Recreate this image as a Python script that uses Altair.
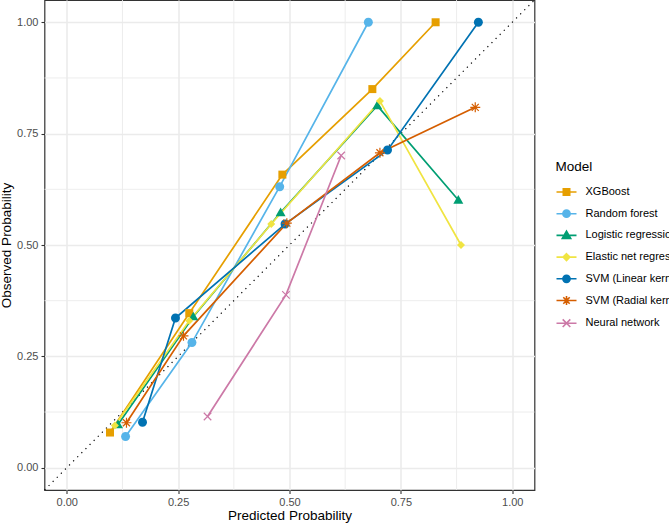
import altair as alt
import pandas as pd

models = ["XGBoost", "Random forest", "Logistic regression", "Elastic net regression",
          "SVM (Linear kernel)", "SVM (Radial kernel)", "Neural network"]
colors = ["#E69F00", "#56B4E9", "#009E73", "#F0E442", "#0072B2", "#D55E00", "#CC79A7"]

xgb_pred = [0.097, 0.275, 0.484, 0.686, 0.828]
xgb_obs = [0.079, 0.347, 0.658, 0.850, 1.000]
rf_pred = [0.132, 0.281, 0.478, 0.677]
rf_obs = [0.070, 0.281, 0.631, 1.000]
lr_pred = [0.115, 0.284, 0.480, 0.697, 0.879]
lr_obs = [0.097, 0.339, 0.573, 0.813, 0.601]
en_pred = [0.108, 0.275, 0.459, 0.703, 0.885]
en_obs = [0.095, 0.330, 0.547, 0.823, 0.500]
svml_pred = [0.170, 0.244, 0.490, 0.720, 0.924]
svml_obs = [0.102, 0.336, 0.547, 0.713, 1.000]
svmr_pred = [0.134, 0.262, 0.494, 0.703, 0.917]
svmr_obs = [0.101, 0.296, 0.549, 0.707, 0.809]
nn_pred = [0.316, 0.492, 0.616]
nn_obs = [0.115, 0.388, 0.701]

tick_values = [0.0, 0.25, 0.5, 0.75, 1.0]
minor_values = [0.125, 0.375, 0.625, 0.875]
diag_values = [-0.05, 1.05]

series = [
    (models[0], xgb_pred, xgb_obs),
    (models[1], rf_pred, rf_obs),
    (models[2], lr_pred, lr_obs),
    (models[3], en_pred, en_obs),
    (models[4], svml_pred, svml_obs),
    (models[5], svmr_pred, svmr_obs),
    (models[6], nn_pred, nn_obs),
]
rows = []
for name, px, py in series:
    for a, b in zip(px, py):
        rows.append({"Model": name, "pred": a, "obs": b})
df = pd.DataFrame(rows)

# point shapes (unit box -1..1)
circle = "M-0.9,0A0.9,0.9,0,1,1,0.9,0A0.9,0.9,0,1,1,-0.9,0Z"
point_shapes = [
    "M-0.8,-0.8L0.8,-0.8L0.8,0.8L-0.8,0.8Z",
    circle,
    "M0,-1L1,0.73L-1,0.73Z",
    "M0,-0.8L0.8,0L0,0.8L-0.8,0Z",
    circle,
    "M-1,0L1,0M0,-1L0,1M-0.7,-0.7L0.7,0.7M-0.7,0.7L0.7,-0.7",
    "M-0.75,-0.75L0.75,0.75M-0.75,0.75L0.75,-0.75",
]
lcircle = "M-1,0L1,0M-0.36,0A0.36,0.36,0,1,1,0.36,0A0.36,0.36,0,1,1,-0.36,0Z"
legend_shapes = [
    "M-1,0L1,0M-0.32,-0.32L0.32,-0.32L0.32,0.32L-0.32,0.32Z",
    lcircle,
    "M-1,0L1,0M0,-0.42L0.42,0.3L-0.42,0.3Z",
    "M-1,0L1,0M0,-0.34L0.34,0L0,0.34L-0.34,0Z",
    lcircle,
    "M-1,0L1,0M0,-0.45L0,0.45M-0.32,-0.32L0.32,0.32M-0.32,0.32L0.32,-0.32",
    "M-1,0L1,0M-0.38,-0.38L0.38,0.38M-0.38,0.38L0.38,-0.38",
]
legend_fills = colors[:5] + ["transparent", "transparent"]

domain = [-0.05, 1.05]
xenc = alt.X("pred:Q", scale=alt.Scale(domain=domain, nice=False, zero=False),
             axis=alt.Axis(values=tick_values, format=".2f", title="Predicted Probability"))
yenc = alt.Y("obs:Q", scale=alt.Scale(domain=domain, nice=False, zero=False),
             axis=alt.Axis(values=tick_values, format=".2f", title="Observed Probability"))

minor_x = alt.Chart(pd.DataFrame({"v": minor_values})).mark_rule(
    color="#EBEBEB", strokeWidth=0.9).encode(x=alt.X("v:Q", scale=alt.Scale(domain=domain, nice=False, zero=False)))
minor_y = alt.Chart(pd.DataFrame({"v": minor_values})).mark_rule(
    color="#EBEBEB", strokeWidth=0.9).encode(y=alt.Y("v:Q", scale=alt.Scale(domain=domain, nice=False, zero=False)))

diag = alt.Chart(pd.DataFrame({"pred": diag_values, "obs": diag_values})).mark_line(
    color="black", strokeWidth=1.2, strokeDash=[1.2, 4.6]).encode(x=xenc, y=yenc)

color_scale = alt.Scale(domain=models, range=colors)

lines = alt.Chart(df).mark_line(strokeWidth=1.7).encode(
    x=xenc, y=yenc,
    color=alt.Color("Model:N", scale=color_scale, legend=None))

pts_filled = alt.Chart(df).transform_filter(
    alt.FieldOneOfPredicate(field="Model", oneOf=models[:5])
).mark_point(filled=True, size=100, opacity=1, strokeWidth=0).encode(
    x=xenc, y=yenc,
    color=alt.Color("Model:N", scale=color_scale, legend=None),
    shape=alt.Shape("Model:N", scale=alt.Scale(domain=models, range=point_shapes), legend=None))

pts_open = alt.Chart(df).transform_filter(
    alt.FieldOneOfPredicate(field="Model", oneOf=models[5:])
).mark_point(filled=False, size=100, opacity=1, strokeWidth=1.2).encode(
    x=xenc, y=yenc,
    color=alt.Color("Model:N", scale=color_scale, legend=None),
    shape=alt.Shape("Model:N", scale=alt.Scale(domain=models, range=point_shapes), legend=None))

leg = alt.Legend(title="Model", orient="none", legendX=511, legendY=160,
                 symbolSize=400, symbolStrokeWidth=1.6, titleFontSize=13.5,
                 labelFontSize=11, titlePadding=7.5, rowPadding=3.7, labelOffset=8,
                 titleColor="black", labelColor="black", titleFontWeight="normal",
                 padding=0, labelLimit=300)

legend_layer = alt.Chart(df).transform_filter("false").mark_point(
    filled=False, size=100, opacity=1, strokeWidth=1.6).encode(
    x=xenc, y=yenc,
    stroke=alt.Stroke("Model:N", scale=alt.Scale(domain=models, range=colors), legend=leg),
    fill=alt.Fill("Model:N", scale=alt.Scale(domain=models, range=legend_fills), legend=leg),
    shape=alt.Shape("Model:N", scale=alt.Scale(domain=models, range=legend_shapes), legend=leg))

chart = alt.layer(minor_x, minor_y, diag, lines, pts_filled, pts_open, legend_layer).resolve_scale(
    color="independent", shape="independent", fill="independent", stroke="independent"
).properties(
    width=490, height=490,
    autosize=alt.AutoSizeParams(type="none"),
    padding={"left": 44.5, "top": 0, "right": 134.5, "bottom": 33}
).configure(
    font="Liberation Sans"
).configure_view(
    stroke="#333333", strokeWidth=1.2
).configure_axis(
    grid=True, gridColor="#EBEBEB", gridWidth=1.6, domain=False,
    tickColor="#333333", tickSize=3.5, tickWidth=1.1,
    labelColor="#4D4D4D", labelFontSize=11, labelPadding=3,
    titleColor="black", titleFontSize=13.5, titleFontWeight="normal"
).configure_axisX(
    titlePadding=0.5
).configure_axisY(
    titlePadding=3
)

chart.save("out.html", embed_options={"renderer": "svg", "actions": False})
